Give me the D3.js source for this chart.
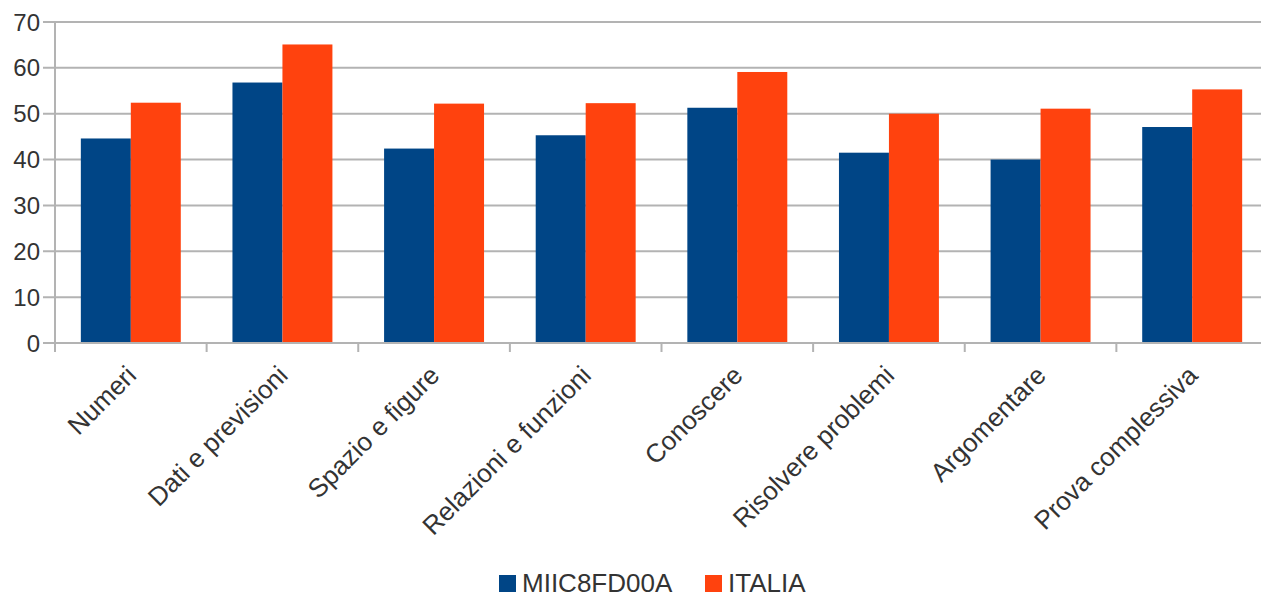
<!DOCTYPE html>
<html>
<head>
<meta charset="utf-8">
<script src="https://cdn.jsdelivr.net/npm/d3@7"></script>
<style>
  html, body { margin: 0; padding: 0; background: #fff; }
  svg { display: block; }
  text { font-family: "Liberation Sans", Arial, sans-serif; fill: #333; }
</style>
</head>
<body>
<svg id="chart" width="1261" height="598"></svg>
<script>
const categories = ["Numeri", "Dati e previsioni", "Spazio e figure", "Relazioni e funzioni",
  "Conoscere", "Risolvere problemi", "Argomentare", "Prova complessiva"];
const seriesNames = ["MIIC8FD00A", "ITALIA"];
const schoolValues = [44.6, 56.8, 42.4, 45.3, 51.3, 41.5, 40.0, 47.1];
const italiaValues = [52.4, 65.1, 52.2, 52.3, 59.1, 50.0, 51.1, 55.3];
const yTicks = [0, 10, 20, 30, 40, 50, 60, 70];
const colors = ["#004586", "#ff420e"];

const svg = d3.select("#chart");
const margin = { left: 55, top: 22, right: -7, bottom: 255 };
const W = 1261, H = 598;
const x0 = margin.left, x1 = W - margin.right;
const yTop = margin.top, yBot = 343;

const x = d3.scaleBand().domain(categories).range([x0, x1]).padding(0);
const xs = d3.scaleBand().domain(seriesNames).range([0, x.bandwidth()]).paddingInner(0).paddingOuter(0.517);
const y = d3.scaleLinear().domain([0, 70]).range([yBot, yTop]);

const grid = "#b3b3b3";

// gridlines
svg.append("g").selectAll("line").data(yTicks).join("line")
  .attr("x1", x0 - 12).attr("x2", W)
  .attr("y1", d => y(d)).attr("y2", d => y(d))
  .attr("stroke", grid).attr("stroke-width", 2);

// y axis line
svg.append("line").attr("x1", x0).attr("x2", x0).attr("y1", yTop).attr("y2", yBot + 9)
  .attr("stroke", grid).attr("stroke-width", 2);

// y labels
svg.append("g").selectAll("text").data(yTicks).join("text")
  .attr("x", 40).attr("y", d => y(d)).attr("dy", "0.36em")
  .attr("text-anchor", "end").attr("font-size", 24)
  .text(d => d);

// bars
const data = categories.map((c, i) => ({ c, vals: [schoolValues[i], italiaValues[i]] }));
const groups = svg.append("g").selectAll("g").data(data).join("g")
  .attr("transform", d => `translate(${x(d.c)},0)`);
groups.selectAll("rect").data(d => d.vals.map((v, j) => ({ v, s: seriesNames[j], j }))).join("rect")
  .attr("x", d => xs(d.s)).attr("width", xs.bandwidth())
  .attr("y", d => y(d.v)).attr("height", d => y(0) - y(d.v))
  .attr("fill", d => colors[d.j]);

// x baseline
svg.append("line").attr("x1", x0 - 12).attr("x2", W).attr("y1", y(0)).attr("y2", y(0))
  .attr("stroke", grid).attr("stroke-width", 2);

// x ticks at category boundaries
const bounds = categories.map(c => x(c)).concat([x(categories[categories.length - 1]) + x.bandwidth()]);
svg.append("g").selectAll("line").data(bounds).join("line")
  .attr("x1", d => d).attr("x2", d => d).attr("y1", y(0)).attr("y2", y(0) + 9)
  .attr("stroke", grid).attr("stroke-width", 2);

// x labels
svg.append("g").selectAll("text").data(categories).join("text")
  .attr("text-anchor", "end").attr("font-size", 26)
  .attr("transform", d => `translate(${x(d) + x.bandwidth() / 2 + 7},377) rotate(-45)`)
  .text(d => d);

// legend
const legendItems = [{ name: seriesNames[0], color: colors[0], x: 499 }, { name: seriesNames[1], color: colors[1], x: 705 }];
const lg = svg.append("g");
legendItems.forEach(it => {
  lg.append("rect").attr("x", it.x).attr("y", 575).attr("width", 17).attr("height", 17).attr("fill", it.color);
  lg.append("text").attr("x", it.x + 23).attr("y", 592).attr("font-size", 26).text(it.name);
});
</script>
</body>
</html>
